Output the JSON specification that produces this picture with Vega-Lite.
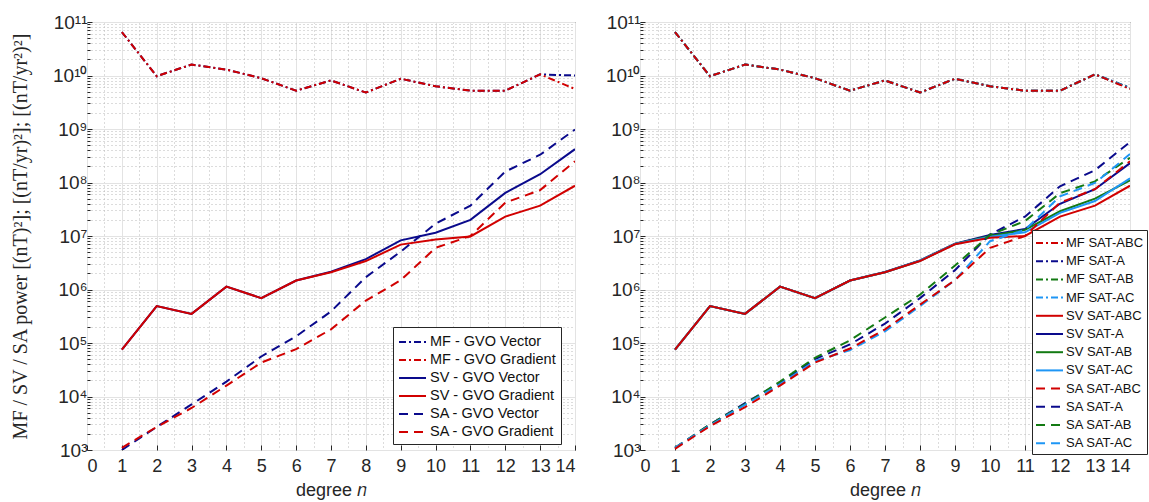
{
  "$schema": "https://vega.github.io/schema/vega-lite/v6.json",
  "padding": {"left": 10, "top": 12, "right": 0, "bottom": 0},
  "spacing": 29,
  "config": {
    "view": {"stroke": "#262626", "strokeWidth": 1},
    "font": "Liberation Sans",
    "axis": {"domainColor": "#262626", "tickColor": "#262626", "labelColor": "#262626", "titleColor": "#262626", "labelFont": "Liberation Sans", "labelFontSize": 18, "titleFontWeight": "normal"},
    "legend": {"labelFont": "Liberation Sans", "labelColor": "#111", "strokeColor": "#262626", "fillColor": "#ffffff", "symbolType": "M-1,0L2,0", "symbolStrokeWidth": 2, "symbolSize": 324, "title": null, "orient": "none", "labelFontSize": 14.5, "rowPadding": 1, "padding": 4, "labelOffset": 12}
  },
  "datasets": {
    "left": [
      {"s":"MF - GVO Vector","n":1,"v":6.5e10},{"s":"MF - GVO Vector","n":2,"v":9.7e9},{"s":"MF - GVO Vector","n":3,"v":1.6e10},{"s":"MF - GVO Vector","n":4,"v":1.29e10},{"s":"MF - GVO Vector","n":5,"v":8.9e9},{"s":"MF - GVO Vector","n":6,"v":5.2e9},{"s":"MF - GVO Vector","n":7,"v":8.1e9},{"s":"MF - GVO Vector","n":8,"v":4.8e9},{"s":"MF - GVO Vector","n":9,"v":8.7e9},{"s":"MF - GVO Vector","n":10,"v":6.3e9},{"s":"MF - GVO Vector","n":11,"v":5.2e9},{"s":"MF - GVO Vector","n":12,"v":5.2e9},{"s":"MF - GVO Vector","n":13,"v":1.05e10},{"s":"MF - GVO Vector","n":14,"v":1.0e10},
      {"s":"MF - GVO Gradient","n":1,"v":6.5e10},{"s":"MF - GVO Gradient","n":2,"v":9.7e9},{"s":"MF - GVO Gradient","n":3,"v":1.6e10},{"s":"MF - GVO Gradient","n":4,"v":1.29e10},{"s":"MF - GVO Gradient","n":5,"v":8.9e9},{"s":"MF - GVO Gradient","n":6,"v":5.2e9},{"s":"MF - GVO Gradient","n":7,"v":8.1e9},{"s":"MF - GVO Gradient","n":8,"v":4.8e9},{"s":"MF - GVO Gradient","n":9,"v":8.7e9},{"s":"MF - GVO Gradient","n":10,"v":6.3e9},{"s":"MF - GVO Gradient","n":11,"v":5.2e9},{"s":"MF - GVO Gradient","n":12,"v":5.2e9},{"s":"MF - GVO Gradient","n":13,"v":1.05e10},{"s":"MF - GVO Gradient","n":14,"v":5.6e9},
      {"s":"SV - GVO Vector","n":1,"v":7.5e4},{"s":"SV - GVO Vector","n":2,"v":4.9e5},{"s":"SV - GVO Vector","n":3,"v":3.5e5},{"s":"SV - GVO Vector","n":4,"v":1.13e6},{"s":"SV - GVO Vector","n":5,"v":6.9e5},{"s":"SV - GVO Vector","n":6,"v":1.47e6},{"s":"SV - GVO Vector","n":7,"v":2.15e6},{"s":"SV - GVO Vector","n":8,"v":3.7e6},{"s":"SV - GVO Vector","n":9,"v":8.3e6},{"s":"SV - GVO Vector","n":10,"v":1.15e7},{"s":"SV - GVO Vector","n":11,"v":2.0e7},{"s":"SV - GVO Vector","n":12,"v":6.4e7},{"s":"SV - GVO Vector","n":13,"v":1.43e8},{"s":"SV - GVO Vector","n":14,"v":4.2e8},
      {"s":"SV - GVO Gradient","n":1,"v":7.5e4},{"s":"SV - GVO Gradient","n":2,"v":4.9e5},{"s":"SV - GVO Gradient","n":3,"v":3.5e5},{"s":"SV - GVO Gradient","n":4,"v":1.13e6},{"s":"SV - GVO Gradient","n":5,"v":6.9e5},{"s":"SV - GVO Gradient","n":6,"v":1.47e6},{"s":"SV - GVO Gradient","n":7,"v":2.1e6},{"s":"SV - GVO Gradient","n":8,"v":3.4e6},{"s":"SV - GVO Gradient","n":9,"v":6.9e6},{"s":"SV - GVO Gradient","n":10,"v":8.6e6},{"s":"SV - GVO Gradient","n":11,"v":9.8e6},{"s":"SV - GVO Gradient","n":12,"v":2.3e7},{"s":"SV - GVO Gradient","n":13,"v":3.7e7},{"s":"SV - GVO Gradient","n":14,"v":8.7e7},
      {"s":"SA - GVO Vector","n":1,"v":1.0e3},{"s":"SA - GVO Vector","n":2,"v":2.7e3},{"s":"SA - GVO Vector","n":3,"v":7.1e3},{"s":"SA - GVO Vector","n":4,"v":1.9e4},{"s":"SA - GVO Vector","n":5,"v":5.6e4},{"s":"SA - GVO Vector","n":6,"v":1.33e5},{"s":"SA - GVO Vector","n":7,"v":3.9e5},{"s":"SA - GVO Vector","n":8,"v":1.7e6},{"s":"SA - GVO Vector","n":9,"v":5.1e6},{"s":"SA - GVO Vector","n":10,"v":1.7e7},{"s":"SA - GVO Vector","n":11,"v":3.7e7},{"s":"SA - GVO Vector","n":12,"v":1.6e8},{"s":"SA - GVO Vector","n":13,"v":3.3e8},{"s":"SA - GVO Vector","n":14,"v":9.8e8},
      {"s":"SA - GVO Gradient","n":1,"v":1.1e3},{"s":"SA - GVO Gradient","n":2,"v":2.7e3},{"s":"SA - GVO Gradient","n":3,"v":6.1e3},{"s":"SA - GVO Gradient","n":4,"v":1.6e4},{"s":"SA - GVO Gradient","n":5,"v":4.3e4},{"s":"SA - GVO Gradient","n":6,"v":7.7e4},{"s":"SA - GVO Gradient","n":7,"v":1.8e5},{"s":"SA - GVO Gradient","n":8,"v":6.2e5},{"s":"SA - GVO Gradient","n":9,"v":1.49e6},{"s":"SA - GVO Gradient","n":10,"v":6.0e6},{"s":"SA - GVO Gradient","n":11,"v":1.0e7},{"s":"SA - GVO Gradient","n":12,"v":4.2e7},{"s":"SA - GVO Gradient","n":13,"v":7.2e7},{"s":"SA - GVO Gradient","n":14,"v":2.5e8}
    ],
    "right": [
      {"s":"MF SAT-A","n":1,"v":6.5e10},{"s":"MF SAT-A","n":2,"v":9.7e9},{"s":"MF SAT-A","n":3,"v":1.6e10},{"s":"MF SAT-A","n":4,"v":1.29e10},{"s":"MF SAT-A","n":5,"v":8.9e9},{"s":"MF SAT-A","n":6,"v":5.2e9},{"s":"MF SAT-A","n":7,"v":8.1e9},{"s":"MF SAT-A","n":8,"v":4.8e9},{"s":"MF SAT-A","n":9,"v":8.7e9},{"s":"MF SAT-A","n":10,"v":6.3e9},{"s":"MF SAT-A","n":11,"v":5.2e9},{"s":"MF SAT-A","n":12,"v":5.2e9},{"s":"MF SAT-A","n":13,"v":1.05e10},{"s":"MF SAT-A","n":14,"v":5.9e9},
      {"s":"MF SAT-AB","n":1,"v":6.5e10},{"s":"MF SAT-AB","n":2,"v":9.7e9},{"s":"MF SAT-AB","n":3,"v":1.6e10},{"s":"MF SAT-AB","n":4,"v":1.29e10},{"s":"MF SAT-AB","n":5,"v":8.9e9},{"s":"MF SAT-AB","n":6,"v":5.2e9},{"s":"MF SAT-AB","n":7,"v":8.1e9},{"s":"MF SAT-AB","n":8,"v":4.8e9},{"s":"MF SAT-AB","n":9,"v":8.7e9},{"s":"MF SAT-AB","n":10,"v":6.3e9},{"s":"MF SAT-AB","n":11,"v":5.2e9},{"s":"MF SAT-AB","n":12,"v":5.2e9},{"s":"MF SAT-AB","n":13,"v":1.05e10},{"s":"MF SAT-AB","n":14,"v":5.8e9},
      {"s":"MF SAT-AC","n":1,"v":6.5e10},{"s":"MF SAT-AC","n":2,"v":9.7e9},{"s":"MF SAT-AC","n":3,"v":1.6e10},{"s":"MF SAT-AC","n":4,"v":1.29e10},{"s":"MF SAT-AC","n":5,"v":8.9e9},{"s":"MF SAT-AC","n":6,"v":5.2e9},{"s":"MF SAT-AC","n":7,"v":8.1e9},{"s":"MF SAT-AC","n":8,"v":4.8e9},{"s":"MF SAT-AC","n":9,"v":8.7e9},{"s":"MF SAT-AC","n":10,"v":6.3e9},{"s":"MF SAT-AC","n":11,"v":5.2e9},{"s":"MF SAT-AC","n":12,"v":5.2e9},{"s":"MF SAT-AC","n":13,"v":1.05e10},{"s":"MF SAT-AC","n":14,"v":5.8e9},
      {"s":"MF SAT-ABC","n":1,"v":6.5e10},{"s":"MF SAT-ABC","n":2,"v":9.7e9},{"s":"MF SAT-ABC","n":3,"v":1.6e10},{"s":"MF SAT-ABC","n":4,"v":1.29e10},{"s":"MF SAT-ABC","n":5,"v":8.9e9},{"s":"MF SAT-ABC","n":6,"v":5.2e9},{"s":"MF SAT-ABC","n":7,"v":8.1e9},{"s":"MF SAT-ABC","n":8,"v":4.8e9},{"s":"MF SAT-ABC","n":9,"v":8.7e9},{"s":"MF SAT-ABC","n":10,"v":6.3e9},{"s":"MF SAT-ABC","n":11,"v":5.2e9},{"s":"MF SAT-ABC","n":12,"v":5.2e9},{"s":"MF SAT-ABC","n":13,"v":1.05e10},{"s":"MF SAT-ABC","n":14,"v":5.6e9},
      {"s":"SV SAT-A","n":1,"v":7.5e4},{"s":"SV SAT-A","n":2,"v":4.9e5},{"s":"SV SAT-A","n":3,"v":3.5e5},{"s":"SV SAT-A","n":4,"v":1.13e6},{"s":"SV SAT-A","n":5,"v":6.9e5},{"s":"SV SAT-A","n":6,"v":1.47e6},{"s":"SV SAT-A","n":7,"v":2.12e6},{"s":"SV SAT-A","n":8,"v":3.5e6},{"s":"SV SAT-A","n":9,"v":7.2e6},{"s":"SV SAT-A","n":10,"v":1.05e7},{"s":"SV SAT-A","n":11,"v":1.35e7},{"s":"SV SAT-A","n":12,"v":4.0e7},{"s":"SV SAT-A","n":13,"v":7.5e7},{"s":"SV SAT-A","n":14,"v":2.3e8},
      {"s":"SV SAT-AB","n":1,"v":7.5e4},{"s":"SV SAT-AB","n":2,"v":4.9e5},{"s":"SV SAT-AB","n":3,"v":3.5e5},{"s":"SV SAT-AB","n":4,"v":1.13e6},{"s":"SV SAT-AB","n":5,"v":6.9e5},{"s":"SV SAT-AB","n":6,"v":1.47e6},{"s":"SV SAT-AB","n":7,"v":2.1e6},{"s":"SV SAT-AB","n":8,"v":3.45e6},{"s":"SV SAT-AB","n":9,"v":7.1e6},{"s":"SV SAT-AB","n":10,"v":1.0e7},{"s":"SV SAT-AB","n":11,"v":1.3e7},{"s":"SV SAT-AB","n":12,"v":2.9e7},{"s":"SV SAT-AB","n":13,"v":5.0e7},{"s":"SV SAT-AB","n":14,"v":1.1e8},
      {"s":"SV SAT-AC","n":1,"v":7.5e4},{"s":"SV SAT-AC","n":2,"v":4.9e5},{"s":"SV SAT-AC","n":3,"v":3.5e5},{"s":"SV SAT-AC","n":4,"v":1.13e6},{"s":"SV SAT-AC","n":5,"v":6.9e5},{"s":"SV SAT-AC","n":6,"v":1.47e6},{"s":"SV SAT-AC","n":7,"v":2.1e6},{"s":"SV SAT-AC","n":8,"v":3.45e6},{"s":"SV SAT-AC","n":9,"v":7.1e6},{"s":"SV SAT-AC","n":10,"v":9.7e6},{"s":"SV SAT-AC","n":11,"v":1.17e7},{"s":"SV SAT-AC","n":12,"v":2.7e7},{"s":"SV SAT-AC","n":13,"v":4.5e7},{"s":"SV SAT-AC","n":14,"v":1.2e8},
      {"s":"SV SAT-ABC","n":1,"v":7.5e4},{"s":"SV SAT-ABC","n":2,"v":4.9e5},{"s":"SV SAT-ABC","n":3,"v":3.5e5},{"s":"SV SAT-ABC","n":4,"v":1.13e6},{"s":"SV SAT-ABC","n":5,"v":6.9e5},{"s":"SV SAT-ABC","n":6,"v":1.47e6},{"s":"SV SAT-ABC","n":7,"v":2.1e6},{"s":"SV SAT-ABC","n":8,"v":3.4e6},{"s":"SV SAT-ABC","n":9,"v":7.0e6},{"s":"SV SAT-ABC","n":10,"v":9.3e6},{"s":"SV SAT-ABC","n":11,"v":1.0e7},{"s":"SV SAT-ABC","n":12,"v":2.3e7},{"s":"SV SAT-ABC","n":13,"v":3.7e7},{"s":"SV SAT-ABC","n":14,"v":8.7e7},
      {"s":"SA SAT-A","n":1,"v":1.1e3},{"s":"SA SAT-A","n":2,"v":3.0e3},{"s":"SA SAT-A","n":3,"v":7.5e3},{"s":"SA SAT-A","n":4,"v":1.8e4},{"s":"SA SAT-A","n":5,"v":5.0e4},{"s":"SA SAT-A","n":6,"v":9.4e4},{"s":"SA SAT-A","n":7,"v":2.3e5},{"s":"SA SAT-A","n":8,"v":6.9e5},{"s":"SA SAT-A","n":9,"v":2.3e6},{"s":"SA SAT-A","n":10,"v":1.07e7},{"s":"SA SAT-A","n":11,"v":2.3e7},{"s":"SA SAT-A","n":12,"v":8.5e7},{"s":"SA SAT-A","n":13,"v":1.7e8},{"s":"SA SAT-A","n":14,"v":5.7e8},
      {"s":"SA SAT-AB","n":1,"v":1.1e3},{"s":"SA SAT-AB","n":2,"v":3.0e3},{"s":"SA SAT-AB","n":3,"v":7.2e3},{"s":"SA SAT-AB","n":4,"v":1.9e4},{"s":"SA SAT-AB","n":5,"v":5.3e4},{"s":"SA SAT-AB","n":6,"v":1.12e5},{"s":"SA SAT-AB","n":7,"v":3.0e5},{"s":"SA SAT-AB","n":8,"v":8.0e5},{"s":"SA SAT-AB","n":9,"v":2.8e6},{"s":"SA SAT-AB","n":10,"v":1.05e7},{"s":"SA SAT-AB","n":11,"v":1.9e7},{"s":"SA SAT-AB","n":12,"v":6.3e7},{"s":"SA SAT-AB","n":13,"v":1.05e8},{"s":"SA SAT-AB","n":14,"v":2.9e8},
      {"s":"SA SAT-AC","n":1,"v":1.1e3},{"s":"SA SAT-AC","n":2,"v":2.9e3},{"s":"SA SAT-AC","n":3,"v":7.0e3},{"s":"SA SAT-AC","n":4,"v":1.7e4},{"s":"SA SAT-AC","n":5,"v":4.6e4},{"s":"SA SAT-AC","n":6,"v":7.4e4},{"s":"SA SAT-AC","n":7,"v":1.65e5},{"s":"SA SAT-AC","n":8,"v":4.9e5},{"s":"SA SAT-AC","n":9,"v":1.5e6},{"s":"SA SAT-AC","n":10,"v":8.0e6},{"s":"SA SAT-AC","n":11,"v":1.3e7},{"s":"SA SAT-AC","n":12,"v":5.5e7},{"s":"SA SAT-AC","n":13,"v":9.8e7},{"s":"SA SAT-AC","n":14,"v":3.4e8},
      {"s":"SA SAT-ABC","n":1,"v":1.05e3},{"s":"SA SAT-ABC","n":2,"v":2.8e3},{"s":"SA SAT-ABC","n":3,"v":6.3e3},{"s":"SA SAT-ABC","n":4,"v":1.6e4},{"s":"SA SAT-ABC","n":5,"v":4.3e4},{"s":"SA SAT-ABC","n":6,"v":7.9e4},{"s":"SA SAT-ABC","n":7,"v":1.8e5},{"s":"SA SAT-ABC","n":8,"v":5.2e5},{"s":"SA SAT-ABC","n":9,"v":1.5e6},{"s":"SA SAT-ABC","n":10,"v":6.0e6},{"s":"SA SAT-ABC","n":11,"v":1.0e7},{"s":"SA SAT-ABC","n":12,"v":4.2e7},{"s":"SA SAT-ABC","n":13,"v":7.5e7},{"s":"SA SAT-ABC","n":14,"v":2.5e8}
    ]
  },
  "resolve": {"scale": {"color": "independent", "strokeDash": "independent"}, "legend": {"color": "independent", "strokeDash": "independent"}},
  "hconcat": [
    {
      "width": 488, "height": 428,
      "data": {"name": "left"},
      "mark": {"type": "line", "strokeWidth": 2, "clip": true},
      "encoding": {
        "x": {"field": "n", "type": "quantitative", "scale": {"domain": [0, 14], "nice": false},
          "axis": {"title": "degree  𝑛", "titleFont": "Liberation Sans", "titleFontSize": 18, "titlePadding": 1,
            "values": [0,0.5,1,1.5,2,2.5,3,3.5,4,4.5,5,5.5,6,6.5,7,7.5,8,8.5,9,9.5,10,10.5,11,11.5,12,12.5,13,13.5,14],
            "labelExpr": "datum.value % 1 == 0 ? format(datum.value, 'd') : ''", "labelOverlap": false, "labelPadding": 12,
            "grid": true,
            "gridColor": {"condition": {"test": "datum.value % 1 != 0", "value": "#b8b8b8"}, "value": "#e3e3e3"},
            "gridDash": {"condition": {"test": "datum.value % 1 != 0", "value": [1, 3]}, "value": []},
            "tickSize": {"condition": {"test": "datum.value % 1 != 0", "value": 0}, "value": -5}, "domain": false}},
        "y": {"field": "v", "type": "quantitative", "scale": {"type": "log", "domain": [1000, 100000000000], "nice": false},
          "axis": {"title": "MF / SV / SA power [(nT)²]; [(nT/yr)²]; [(nT/yr²)²]", "titleFont": "Liberation Serif", "titleFontSize": 20, "titlePadding": 22,
            "values": [1000,2000,3000,4000,5000,6000,7000,8000,9000,10000,20000,30000,40000,50000,60000,70000,80000,90000,100000,200000,300000,400000,500000,600000,700000,800000,900000,1000000,2000000,3000000,4000000,5000000,6000000,7000000,8000000,9000000,10000000,20000000,30000000,40000000,50000000,60000000,70000000,80000000,90000000,100000000,200000000,300000000,400000000,500000000,600000000,700000000,800000000,900000000,1000000000,2000000000,3000000000,4000000000,5000000000,6000000000,7000000000,8000000000,9000000000,10000000000,20000000000,30000000000,40000000000,50000000000,60000000000,70000000000,80000000000,90000000000,100000000000],
            "labelExpr": "abs(log(datum.value)/LN10 - round(log(datum.value)/LN10)) < 0.000001 ? ['','','','10³','10⁴','10⁵','10⁶','10⁷','10⁸','10⁹','10¹⁰','10¹¹'][round(log(datum.value)/LN10)] : ''",
            "labelOverlap": false, "labelPadding": 5, "labelFontSize": 19,
            "grid": true,
            "gridColor": {"condition": {"test": "abs(log(datum.value)/LN10 - round(log(datum.value)/LN10)) > 0.000001", "value": "#b8b8b8"}, "value": "#e3e3e3"},
            "gridDash": {"condition": {"test": "abs(log(datum.value)/LN10 - round(log(datum.value)/LN10)) > 0.000001", "value": [1, 3]}, "value": []},
            "tickSize": {"condition": {"test": "abs(log(datum.value)/LN10 - round(log(datum.value)/LN10)) > 0.000001", "value": -3}, "value": -5}, "domain": false}},
        "color": {"field": "s", "type": "nominal",
          "scale": {"domain": ["MF - GVO Vector","MF - GVO Gradient","SV - GVO Vector","SV - GVO Gradient","SA - GVO Vector","SA - GVO Gradient"],
            "range": ["#0a0a8c","#d10000","#0a0a8c","#d10000","#0a0a8c","#d10000"]},
          "legend": {"legendX": 306, "legendY": 305, "padding": 5}},
        "strokeDash": {"field": "s", "type": "nominal",
          "scale": {"domain": ["MF - GVO Vector","MF - GVO Gradient","SV - GVO Vector","SV - GVO Gradient","SA - GVO Vector","SA - GVO Gradient"],
            "range": [[7,3,2,3],[7,3,2,3],[],[],[9,6],[9,6]]},
          "legend": {"legendX": 306, "legendY": 305, "padding": 5}}
      }
    },
    {
      "width": 490, "height": 428,
      "data": {"name": "right"},
      "mark": {"type": "line", "strokeWidth": 2, "clip": true},
      "encoding": {
        "x": {"field": "n", "type": "quantitative", "scale": {"domain": [0, 14], "nice": false},
          "axis": {"title": "degree  𝑛", "titleFont": "Liberation Sans", "titleFontSize": 18, "titlePadding": 1,
            "values": [0,0.5,1,1.5,2,2.5,3,3.5,4,4.5,5,5.5,6,6.5,7,7.5,8,8.5,9,9.5,10,10.5,11,11.5,12,12.5,13,13.5,14],
            "labelExpr": "datum.value % 1 == 0 ? format(datum.value, 'd') : ''", "labelOverlap": false, "labelPadding": 12,
            "grid": true,
            "gridColor": {"condition": {"test": "datum.value % 1 != 0", "value": "#b8b8b8"}, "value": "#e3e3e3"},
            "gridDash": {"condition": {"test": "datum.value % 1 != 0", "value": [1, 3]}, "value": []},
            "tickSize": {"condition": {"test": "datum.value % 1 != 0", "value": 0}, "value": -5}, "domain": false}},
        "y": {"field": "v", "type": "quantitative", "scale": {"type": "log", "domain": [1000, 100000000000], "nice": false},
          "axis": {"title": null,
            "values": [1000,2000,3000,4000,5000,6000,7000,8000,9000,10000,20000,30000,40000,50000,60000,70000,80000,90000,100000,200000,300000,400000,500000,600000,700000,800000,900000,1000000,2000000,3000000,4000000,5000000,6000000,7000000,8000000,9000000,10000000,20000000,30000000,40000000,50000000,60000000,70000000,80000000,90000000,100000000,200000000,300000000,400000000,500000000,600000000,700000000,800000000,900000000,1000000000,2000000000,3000000000,4000000000,5000000000,6000000000,7000000000,8000000000,9000000000,10000000000,20000000000,30000000000,40000000000,50000000000,60000000000,70000000000,80000000000,90000000000,100000000000],
            "labelExpr": "abs(log(datum.value)/LN10 - round(log(datum.value)/LN10)) < 0.000001 ? ['','','','10³','10⁴','10⁵','10⁶','10⁷','10⁸','10⁹','10¹⁰','10¹¹'][round(log(datum.value)/LN10)] : ''",
            "labelOverlap": false, "labelPadding": 5, "labelFontSize": 19,
            "grid": true,
            "gridColor": {"condition": {"test": "abs(log(datum.value)/LN10 - round(log(datum.value)/LN10)) > 0.000001", "value": "#b8b8b8"}, "value": "#e3e3e3"},
            "gridDash": {"condition": {"test": "abs(log(datum.value)/LN10 - round(log(datum.value)/LN10)) > 0.000001", "value": [1, 3]}, "value": []},
            "tickSize": {"condition": {"test": "abs(log(datum.value)/LN10 - round(log(datum.value)/LN10)) > 0.000001", "value": -3}, "value": -5}, "domain": false}},
        "color": {"field": "s", "type": "nominal",
          "scale": {"domain": ["MF SAT-ABC","MF SAT-A","MF SAT-AB","MF SAT-AC","SV SAT-ABC","SV SAT-A","SV SAT-AB","SV SAT-AC","SA SAT-ABC","SA SAT-A","SA SAT-AB","SA SAT-AC"],
            "range": ["#d10000","#0a0a8c","#137a13","#1e96f5","#d10000","#0a0a8c","#137a13","#1e96f5","#d10000","#0a0a8c","#137a13","#1e96f5"]},
          "legend": {"legendX": 392, "legendY": 208, "labelFontSize": 13, "rowPadding": 1.2, "padding": 3, "labelOffset": 11}},
        "strokeDash": {"field": "s", "type": "nominal",
          "scale": {"domain": ["MF SAT-ABC","MF SAT-A","MF SAT-AB","MF SAT-AC","SV SAT-ABC","SV SAT-A","SV SAT-AB","SV SAT-AC","SA SAT-ABC","SA SAT-A","SA SAT-AB","SA SAT-AC"],
            "range": [[7,3,2,3],[7,3,2,3],[7,3,2,3],[7,3,2,3],[],[],[],[],[9,6],[9,6],[9,6],[9,6]]},
          "legend": {"legendX": 392, "legendY": 208, "labelFontSize": 13, "rowPadding": 1.2, "padding": 3, "labelOffset": 11}}
      }
    }
  ]
}
